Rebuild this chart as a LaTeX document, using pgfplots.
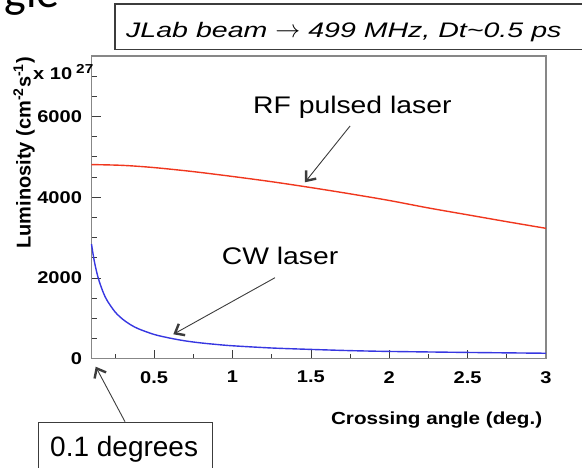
\documentclass[border=0pt]{standalone}
\usepackage{pgfplots}
\pgfplotsset{compat=1.18}
\usepackage{fontspec}
\usetikzlibrary{arrows.meta}
\setmainfont{Liberation Sans}
\newfontfamily\plotfont{Liberation Sans}[FakeStretch=1.18]
\newfontfamily\titlefont{Liberation Sans}[FakeStretch=1.36]
\newfontfamily\slidefont{Carlito}
\definecolor{rootred}{RGB}{240,55,30}
\definecolor{rootblue}{RGB}{55,55,225}
\definecolor{axgray}{RGB}{135,135,135}
\definecolor{arrowgray}{RGB}{60,60,60}
\begin{document}
\begin{tikzpicture}[x=1pt,y=1pt]
\useasboundingbox (0,0) rectangle (582,468);
\begin{axis}[
  at={(91.5pt,109.3pt)}, anchor=south west,
  width=454.5pt, height=302.7pt, scale only axis,
  xmin=0.1, xmax=3, ymin=0, ymax=7500,
  xtick={0.5,1,1.5,2,2.5,3}, xticklabels={0.5,1,1.5,2,2.5,3},
  minor xtick={0.25,0.75,1.25,1.75,2.25,2.75},
  ytick={0,2000,4000,6000}, yticklabels={0,2000,4000,6000},
  minor ytick={500,1000,1500,2500,3000,3500,4500,5000,5500,6500,7000},
  tick align=inside, xtick pos=bottom, ytick pos=left,
  major tick length=9pt, minor tick length=5pt,
  axis line style={draw=axgray, line width=1.2pt},
  every tick/.style={draw=arrowgray, line width=0.8pt},
  tick label style={font=\plotfont\bfseries\fontsize{17}{17}\selectfont, text=black},
  xticklabel style={yshift=-9pt},
  yticklabel style={xshift=-6pt},
  clip=false,
]
\addplot[rootred, line width=1.4pt, smooth] coordinates {
(0.1,4810) (0.3,4790) (0.5,4735) (0.75,4635) (1.0,4515) (1.25,4385) (1.5,4240)
(1.75,4085) (2.0,3920) (2.25,3735) (2.5,3565) (2.75,3395) (3.0,3230)};
\addplot[rootblue, line width=1.4pt, smooth] coordinates {
(0.1,2840) (0.11,2590) (0.12,2375) (0.135,2115) (0.15,1910) (0.175,1640) (0.2,1440)
(0.25,1160) (0.3,975) (0.35,840) (0.4,740) (0.5,600) (0.6,510) (0.7,440) (0.8,390)
(0.9,352) (1.0,320) (1.25,265) (1.5,230) (1.75,200) (2.0,180) (2.5,155) (3.0,135)};
\draw[arrowgray, line width=0.9pt, -{Straight Barb[length=8pt,width=13pt,line width=2.4pt]}]
  (axis cs:1.75,5766) -- (axis cs:1.462,4371);
\draw[arrowgray, line width=0.9pt, -{Straight Barb[length=8pt,width=13pt,line width=2.4pt]}]
  (axis cs:1.271,2007) -- (axis cs:0.622,605);
\end{axis}
% axis labels
\node[anchor=base east, font=\plotfont\bfseries\fontsize{17.5}{17.5}\selectfont] at (545.7,43) {Crossing angle (deg.)};
\node[rotate=90, font=\bfseries\fontsize{20}{20}\selectfont] at (24,315) {Luminosity (cm\textsuperscript{-2}s\textsuperscript{-1})};
\node[anchor=west, inner sep=0pt, font=\plotfont\bfseries\fontsize{17}{17}\selectfont] at (33,396) {x 10\hspace{4pt}\raisebox{6pt}{\fontsize{13}{13}\selectfont 27}};
% annotations
\node[anchor=base west, inner sep=0pt, font=\plotfont\fontsize{24}{24}\selectfont] at (253,354.7) {RF pulsed laser};
\node[anchor=base west, inner sep=0pt, font=\plotfont\fontsize{24}{24}\selectfont] at (221.7,203) {CW laser};
% title box
\draw[arrowgray, line width=1.3pt] (115,464) rectangle (610,418.7);
\node[anchor=base west, inner sep=0pt, font=\titlefont\itshape\fontsize{21}{21}\selectfont] at (126,430.7) {JLab beam {\fontsize{24}{24}\selectfont$\rightarrow$} 499 MHz, Dt\textasciitilde 0.5 ps};
% 0.1 degrees box
\draw[arrowgray, line width=0.9pt, -{Straight Barb[length=8pt,width=13pt,line width=2.4pt]}] (125,46.3) -- (95.7,101.3);
\draw[arrowgray, line width=1.3pt] (38.7,45.7) rectangle (212.3,-10);
\node[anchor=base west, inner sep=0pt, font=\fontsize{28}{28}\selectfont] at (50,11.3) {0.1 degrees};
% slide title fragment
\node[anchor=base east, inner sep=0pt, font=\slidefont\fontsize{46}{46}\selectfont] at (60,460) {gle};
\end{tikzpicture}
\end{document}
